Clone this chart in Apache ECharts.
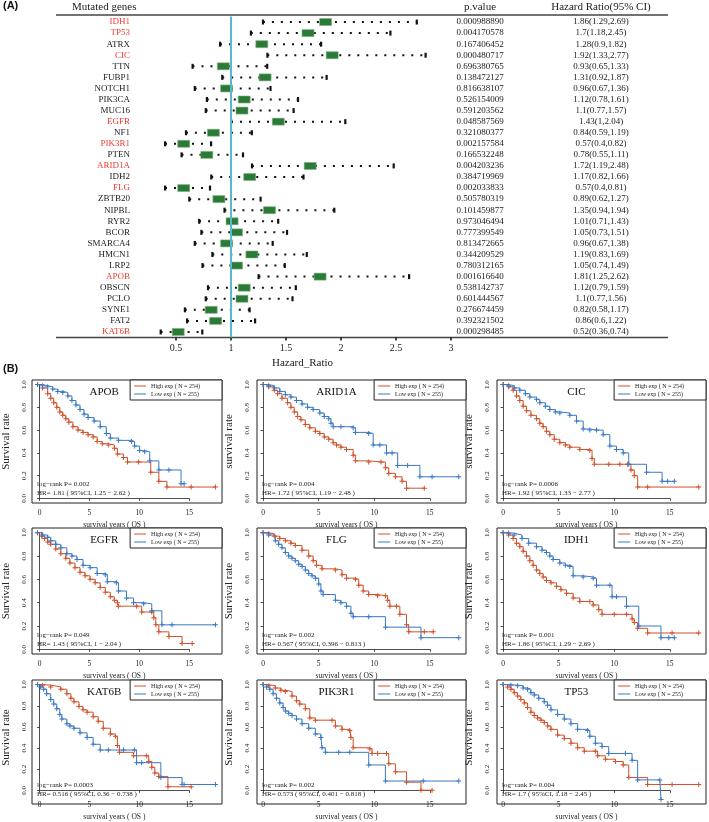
<!DOCTYPE html>
<html>
<head>
<meta charset="utf-8">
<script src="https://cdn.jsdelivr.net/npm/echarts@6/dist/echarts.min.js"></script>
<style>
html,body{margin:0;padding:0;background:#fff;}
#main{width:709px;height:822px;}
</style>
</head>
<body>
<div id="main"></div>
<script>
// ---- (A) forest plot data ----
var genes = ['IDH1','TP53','ATRX','CIC','TTN','FUBP1','NOTCH1','PIK3CA','MUC16','EGFR','NF1','PIK3R1','PTEN','ARID1A','IDH2','FLG','ZBTB20','NIPBL','RYR2','BCOR','SMARCA4','HMCN1','LRP2','APOB','OBSCN','PCLO','SYNE1','FAT2','KAT6B'];
var pValues = ['0.000988890','0.004170578','0.167406452','0.000480717','0.696380765','0.138472127','0.816638107','0.526154009','0.591203562','0.048587569','0.321080377','0.002157584','0.166532248','0.004203236','0.384719969','0.002033833','0.505780319','0.101459877','0.973046494','0.777399549','0.813472665','0.344209529','0.780312165','0.001616640','0.538142737','0.601444567','0.276674459','0.392321502','0.000298485'];
var hazard = [1.86,1.7,1.28,1.92,0.93,1.31,0.96,1.12,1.1,1.43,0.84,0.57,0.78,1.72,1.17,0.57,0.89,1.35,1.01,1.05,0.96,1.19,1.05,1.81,1.12,1.1,0.82,0.86,0.52];
var ciLow = [1.29,1.18,0.9,1.33,0.65,0.92,0.67,0.78,0.77,1,0.59,0.4,0.55,1.19,0.82,0.4,0.62,0.94,0.71,0.73,0.67,0.83,0.74,1.25,0.79,0.77,0.58,0.6,0.36];
var ciHigh = [2.69,2.45,1.82,2.77,1.33,1.87,1.36,1.61,1.57,2.04,1.19,0.82,1.11,2.48,1.66,0.81,1.27,1.94,1.43,1.51,1.38,1.69,1.49,2.62,1.59,1.56,1.17,1.22,0.74];
var forestTicks = [0.5,1,1.5,2,2.5,3];

// ---- (B) Kaplan-Meier curves, [years, survival] ----
var apobHigh = [[0,1],[0.5,0.97],[1,0.92],[1.3,0.88],[1.6,0.84],[1.9,0.8],[2.2,0.76],[2.5,0.73],[2.8,0.7],[3.1,0.67],[3.5,0.63],[4,0.6],[4.5,0.58],[5,0.56],[5.5,0.54],[5.9,0.5],[6.4,0.48],[7,0.47],[7.6,0.44],[7.9,0.39],[8.5,0.36],[8.9,0.32],[10,0.32],[11.2,0.23],[12,0.15],[12.8,0.1],[15.2,0.1],[17.6,0.1]];
var apobLow = [[0,1],[0.5,0.99],[1,0.98],[1.5,0.96],[2,0.94],[2.5,0.93],[3,0.9],[3.4,0.86],[3.8,0.82],[4.2,0.78],[4.6,0.74],[5,0.71],[5.6,0.68],[6.2,0.63],[6.8,0.57],[7.2,0.53],[8,0.51],[9.3,0.5],[9.6,0.46],[10.1,0.42],[10.6,0.41],[11.1,0.33],[12,0.25],[13,0.25],[14.2,0.13],[14.5,0.13]];
var arid1aHigh = [[0,1],[0.5,0.98],[1,0.95],[1.3,0.92],[1.7,0.88],[2.2,0.84],[2.5,0.8],[2.8,0.76],[3.1,0.72],[3.4,0.69],[3.8,0.65],[4.2,0.62],[4.7,0.59],[5.1,0.57],[5.5,0.54],[5.9,0.52],[6.3,0.49],[6.6,0.47],[7,0.45],[7.5,0.43],[8.1,0.38],[8.3,0.33],[9.5,0.32],[10.6,0.32],[11,0.27],[11.3,0.22],[11.9,0.19],[12.5,0.15],[12.9,0.09],[14.5,0.09]];
var arid1aLow = [[0,1],[0.5,0.99],[1,0.97],[1.5,0.94],[2,0.91],[2.5,0.89],[3,0.86],[3.5,0.83],[4,0.8],[4.5,0.78],[5.1,0.75],[5.5,0.72],[5.9,0.7],[6.1,0.66],[6.3,0.63],[7,0.63],[8.1,0.62],[8.3,0.58],[9.5,0.57],[9.9,0.47],[10.5,0.47],[11.1,0.4],[11.6,0.4],[12.1,0.29],[13,0.29],[14.1,0.19],[15.2,0.19],[17.6,0.19]];
var cicHigh = [[0,1],[0.5,0.98],[0.9,0.95],[1.2,0.9],[1.5,0.86],[1.8,0.81],[2.1,0.77],[2.5,0.73],[3,0.7],[3.3,0.66],[3.6,0.63],[3.9,0.59],[4.2,0.56],[4.6,0.52],[5.1,0.49],[5.6,0.47],[6,0.45],[6.9,0.43],[7.8,0.42],[8,0.35],[8.2,0.3],[9.5,0.3],[10.5,0.3],[11.2,0.3],[11.5,0.25],[11.8,0.2],[12.1,0.1],[13,0.1],[17.6,0.1]];
var cicLow = [[0,1],[0.5,0.99],[1,0.97],[1.5,0.95],[2,0.92],[2.4,0.89],[3,0.87],[3.3,0.84],[3.8,0.81],[4.2,0.78],[4.7,0.76],[5.1,0.75],[6,0.73],[6.6,0.68],[7.2,0.61],[7.8,0.6],[8.4,0.6],[9,0.56],[9.6,0.46],[10.2,0.43],[10.8,0.4],[11.3,0.3],[12.9,0.23],[14.3,0.15],[14.8,0.15],[15.4,0.15]];
var egfrHigh = [[0,1],[0.4,0.97],[0.7,0.95],[1,0.92],[1.3,0.9],[1.8,0.86],[2.3,0.82],[2.8,0.78],[3.2,0.74],[3.7,0.7],[4.2,0.66],[4.7,0.63],[5.2,0.6],[5.7,0.57],[6.2,0.53],[6.7,0.49],[7.2,0.45],[7.6,0.42],[7.9,0.4],[8,0.37],[9.8,0.37],[10.3,0.32],[11.3,0.32],[11.5,0.27],[11.7,0.21],[12,0.15],[13,0.11],[14.3,0.05],[15.3,0.05]];
var egfrLow = [[0,1],[0.5,0.98],[1,0.96],[1.3,0.93],[1.8,0.9],[2.3,0.87],[2.9,0.82],[3.4,0.8],[3.9,0.77],[4.5,0.72],[5.2,0.7],[5.9,0.65],[6.7,0.64],[6.9,0.58],[7.8,0.57],[8,0.5],[8.8,0.44],[9.5,0.4],[10.5,0.39],[11.3,0.33],[12.3,0.21],[13.3,0.21],[17.6,0.21]];
var flgHigh = [[0,1],[0.5,0.99],[1,0.97],[1.5,0.95],[2,0.93],[2.5,0.91],[2.9,0.89],[3.5,0.85],[4.1,0.8],[4.5,0.76],[4.8,0.72],[5.3,0.69],[6.5,0.68],[7.1,0.64],[7.5,0.61],[8.3,0.6],[8.6,0.55],[9,0.5],[9.5,0.47],[10.3,0.46],[11,0.46],[11.2,0.42],[11.4,0.37],[12,0.37],[12.3,0.3],[12.9,0.21],[13.1,0.15],[14.5,0.15],[15.3,0.15]];
var flgLow = [[0,1],[0.5,0.98],[1.1,0.93],[1.4,0.9],[1.7,0.87],[2,0.83],[2.3,0.8],[2.6,0.78],[2.9,0.76],[3.2,0.73],[3.5,0.71],[3.8,0.68],[4.1,0.65],[4.4,0.63],[4.7,0.61],[5,0.56],[5.2,0.5],[5.4,0.47],[6.5,0.42],[7,0.4],[7.5,0.37],[7.9,0.31],[8.1,0.28],[9.5,0.28],[11,0.19],[14.2,0.1],[17.6,0.1]];
var idh1High = [[0,1],[0.5,0.98],[0.9,0.95],[1.2,0.91],[1.5,0.88],[1.8,0.84],[2.1,0.8],[2.4,0.76],[2.7,0.72],[3,0.68],[3.3,0.65],[3.6,0.62],[3.9,0.59],[4.3,0.57],[4.8,0.54],[5.2,0.51],[5.7,0.48],[6.3,0.44],[6.9,0.41],[7.8,0.41],[8.1,0.38],[8.6,0.34],[8.9,0.3],[10,0.3],[11.1,0.3],[11.6,0.26],[11.8,0.23],[12.1,0.18],[13,0.14],[15.2,0.14],[17.6,0.14]];
var idh1Low = [[0,1],[0.5,0.995],[1,0.98],[1.7,0.95],[2.3,0.91],[3,0.88],[3.5,0.85],[3.9,0.83],[4.2,0.8],[4.5,0.77],[5.1,0.74],[5.6,0.72],[6,0.71],[6.3,0.63],[7.2,0.62],[8.1,0.61],[8.4,0.55],[9.6,0.55],[9.8,0.45],[10.2,0.45],[11.1,0.37],[12.2,0.2],[14.2,0.1],[14.9,0.1],[15.4,0.1]];
var kat6bHigh = [[0,1],[0.5,0.995],[1.3,0.98],[2.3,0.96],[2.9,0.92],[3.3,0.88],[3.6,0.85],[4.1,0.81],[4.5,0.78],[4.9,0.76],[5.5,0.72],[6,0.68],[6.5,0.62],[7.2,0.57],[7.7,0.55],[7.9,0.47],[8.1,0.41],[9.5,0.38],[10.8,0.38],[11,0.33],[11.3,0.28],[11.6,0.23],[12,0.2],[12.9,0.11],[15.2,0.11]];
var kat6bLow = [[0,1],[0.3,0.98],[0.6,0.96],[0.9,0.92],[1.3,0.87],[1.6,0.83],[1.9,0.79],[2.2,0.74],[2.4,0.7],[2.9,0.66],[3.2,0.64],[3.6,0.62],[4.2,0.58],[4.9,0.54],[5.5,0.48],[6.2,0.43],[7,0.43],[8.5,0.43],[9.6,0.43],[9.8,0.32],[10.3,0.32],[12.2,0.19],[14.3,0.13],[14.5,0.13],[17.6,0.13]];
var pik3r1High = [[0,1],[0.5,0.99],[1.1,0.97],[1.6,0.95],[2,0.94],[2.6,0.9],[3,0.86],[3.3,0.83],[3.8,0.79],[4.2,0.71],[4.7,0.69],[6.2,0.69],[6.5,0.64],[7.1,0.61],[7.8,0.6],[7.9,0.54],[8.1,0.45],[9.6,0.44],[9.8,0.4],[10.3,0.4],[11.1,0.4],[11.3,0.31],[11.9,0.24],[12.9,0.15],[14.2,0.08],[15.2,0.08]];
var pik3r1Low = [[0,1],[0.3,0.98],[0.6,0.96],[0.9,0.92],[1.2,0.88],[1.5,0.84],[1.8,0.8],[2,0.77],[2.3,0.75],[2.6,0.73],[3,0.7],[3.5,0.66],[4.1,0.62],[4.7,0.57],[5.2,0.54],[5.3,0.45],[5.6,0.41],[6.8,0.41],[7.8,0.41],[9.5,0.3],[11,0.16],[14.4,0.16],[17.6,0.16]];
var tp53High = [[0,1],[0.4,0.98],[0.7,0.96],[1,0.93],[1.3,0.9],[1.6,0.87],[1.9,0.84],[2.2,0.8],[2.5,0.76],[2.8,0.73],[3.1,0.71],[3.4,0.69],[3.7,0.67],[4,0.64],[4.3,0.61],[4.9,0.56],[5.5,0.53],[6.1,0.49],[6.7,0.45],[7.3,0.42],[8.3,0.42],[8.5,0.38],[9.2,0.35],[10.1,0.33],[10.8,0.3],[11.3,0.19],[13,0.13],[15.2,0.13],[17.6,0.13]];
var tp53Low = [[0,1],[0.7,0.995],[1.3,0.99],[1.8,0.97],[2.2,0.96],[2.5,0.93],[2.8,0.91],[3.2,0.88],[3.7,0.85],[4,0.82],[4.3,0.78],[4.9,0.74],[5.5,0.7],[6.1,0.66],[6.7,0.61],[7.6,0.6],[7.8,0.55],[8.3,0.49],[8.9,0.46],[9.5,0.4],[11,0.4],[11.6,0.34],[12.1,0.17],[14.1,0.17],[14.2,0]];

var kmGenes = ['APOB','ARID1A','CIC','EGFR','FLG','IDH1','KAT6B','PIK3R1','TP53'];
var kmHigh = [apobHigh, arid1aHigh, cicHigh, egfrHigh, flgHigh, idh1High, kat6bHigh, pik3r1High, tp53High];
var kmLow = [apobLow, arid1aLow, cicLow, egfrLow, flgLow, idh1Low, kat6bLow, pik3r1Low, tp53Low];
var kmLogRank = ['0.002','0.004','0.0006','0.049','0.002','0.001','0.0003','0.002','0.004'];
var kmHR = ['1.81 ( 95%CI, 1.25 \u2212 2.62 )','1.72 ( 95%CI, 1.19 \u2212 2.48 )','1.92 ( 95%CI, 1.33 \u2212 2.77 )','1.43 ( 95%CI, 1 \u2212 2.04 )','0.567 ( 95%CI, 0.396 \u2212 0.813 )','1.86 ( 95%CI, 1.29 \u2212 2.69 )','0.516 ( 95%CI, 0.36 \u2212 0.738 )','0.573 ( 95%CI, 0.401 \u2212 0.818 )','1.7 ( 95%CI, 1.18 \u2212 2.45 )'];
var kmYName = ['Survival rate','survival rate','survival rate','Survival rate','Survival rate','Survival rate','Survival rate','Survival rate','Survival rate'];
var HIGH = 'High exp ( N = 254)', LOW = 'Low exp ( N = 255)';

// ---- layout / style ----
var W = 709;
var SERIF = '"Liberation Serif", "Times New Roman", serif';
var SANS = '"Liberation Sans", Arial, sans-serif';
var RED_GENE = '#ec3b2f', GREEN = '#2b7a37', CYAN = '#58b9cc';
var KM_RED = '#d1512a', KM_BLUE = '#3a78c4';
var PLUS = 'path://M2,0H3V2H5V3H3V5H2V3H0V2H2Z';
var colL = [32, 257, 497], colR = [222, 466, 706];
var rowT = [380, 528, 680], rowB = [503, 654, 804];
var T_MIN = -0.55, T_MAX = 18.25, S_MIN = -0.04, S_MAX = 1.04;

var grids = [{left: 154, top: 16.5, width: 297, height: 321}];
var xAxes = [{
  gridIndex: 0, type: 'value', min: 0.3, max: 3,
  axisLine: {show: false},
  axisTick: {show: true, customValues: forestTicks, length: 3, lineStyle: {color: '#111', width: 1.5}},
  axisLabel: {customValues: forestTicks, fontSize: 10, fontFamily: SERIF, color: '#222', margin: 6},
  splitLine: {show: false},
  name: 'Hazard_Ratio', nameLocation: 'middle', nameGap: 20,
  nameTextStyle: {fontSize: 11, fontFamily: SERIF, color: '#222'}
}];
var yAxes = [
  {
    gridIndex: 0, type: 'category', inverse: true, data: genes,
    axisLine: {show: false}, axisTick: {show: false}, splitLine: {show: false},
    axisLabel: {interval: 0, fontSize: 9, fontFamily: SERIF, margin: 24,
      color: function (v, i) { return parseFloat(pValues[genes.indexOf(v)]) < 0.05 ? RED_GENE : '#222'; }}
  },
  {
    gridIndex: 0, type: 'category', inverse: true, position: 'right', data: pValues,
    axisLine: {show: false}, axisTick: {show: false}, splitLine: {show: false},
    axisLabel: {interval: 0, fontSize: 9, fontFamily: SERIF, color: '#222', align: 'center', margin: 29}
  },
  {
    gridIndex: 0, type: 'category', inverse: true, position: 'right',
    data: hazard.map(function (h, i) { return h + '(' + ciLow[i] + ',' + ciHigh[i] + ')'; }),
    axisLine: {show: false}, axisTick: {show: false}, splitLine: {show: false},
    axisLabel: {interval: 0, fontSize: 9, fontFamily: SERIF, color: '#222', align: 'center', margin: 150}
  }
];

var series = [{
  type: 'custom', xAxisIndex: 0, yAxisIndex: 0,
  dimensions: ['hr', 'lo', 'hi', 'gene'],
  data: genes.map(function (g, i) { return [hazard[i], ciLow[i], ciHigh[i], g]; }),
  encode: {x: 0, y: 3},
  renderItem: function (params, api) {
    var row = api.value(3);
    var pLo = api.coord([api.value(1), row]);
    var pHi = api.coord([api.value(2), row]);
    var pHr = api.coord([api.value(0), row]);
    return {type: 'group', children: [
      {type: 'line', shape: {x1: pLo[0], y1: pLo[1], x2: pHi[0], y2: pHi[1]}, style: {stroke: '#111', lineWidth: 2, lineDash: [2, 7]}},
      {type: 'rect', shape: {x: pLo[0] - 1, y: pLo[1] - 2.5, width: 2.2, height: 5}, style: {fill: '#111'}},
      {type: 'rect', shape: {x: pHi[0] - 1.2, y: pHi[1] - 2.5, width: 2.2, height: 5}, style: {fill: '#111'}},
      {type: 'rect', shape: {x: pHr[0] - 6, y: pHr[1] - 3.5, width: 12, height: 7}, style: {fill: GREEN, stroke: '#7db27f', lineWidth: 0.6}}
    ]};
  },
  z: 3
}, {
  type: 'line', xAxisIndex: 0, yAxisIndex: 0, data: [], silent: true,
  markLine: {
    silent: true, symbol: ['none', 'none'], label: {show: false}, animation: false,
    lineStyle: {color: CYAN, width: 2, type: 'solid'},
    data: [{xAxis: 1}]
  }
}];

var legends = [];
var graphics = [
  {type: 'text', x: 3, y: 6, style: {text: '(A)', font: 'bold 11px ' + SANS, fill: '#111', verticalAlign: 'middle', textVerticalAlign: 'middle'}},
  {type: 'text', x: 72, y: 7, style: {text: 'Mutated genes', font: '11px ' + SERIF, fill: '#222', verticalAlign: 'middle', textVerticalAlign: 'middle'}},
  {type: 'text', x: 480, y: 7, style: {text: 'p.value', font: '11px ' + SERIF, fill: '#222', align: 'center', textAlign: 'center', verticalAlign: 'middle', textVerticalAlign: 'middle'}},
  {type: 'text', x: 601, y: 7, style: {text: 'Hazard Ratio(95% CI)', font: '11px ' + SERIF, fill: '#222', align: 'center', textAlign: 'center', verticalAlign: 'middle', textVerticalAlign: 'middle'}},
  {type: 'line', shape: {x1: 56, y1: 15, x2: 668, y2: 15}, style: {stroke: '#444', lineWidth: 1.3}},
  {type: 'line', shape: {x1: 56, y1: 337.5, x2: 668, y2: 337.5}, style: {stroke: '#444', lineWidth: 1.3}},
  {type: 'text', x: 3, y: 369, style: {text: '(B)', font: 'bold 11px ' + SANS, fill: '#111', verticalAlign: 'middle', textVerticalAlign: 'middle'}}
];

kmGenes.forEach(function (gene, k) {
  var r = Math.floor(k / 3), c = k % 3;
  var L = colL[c], R = colR[c], T = rowT[r], B = rowB[r];
  var w = R - L, h = B - T;
  var fx = function (t) { return L + (t - T_MIN) / (T_MAX - T_MIN) * w; };
  var fy = function (s) { return B - (s - S_MIN) / (S_MAX - S_MIN) * h; };
  var gBox = grids.length, gAx = gBox + 1;
  grids.push({left: L, top: T, width: w, height: h, show: true, borderColor: '#222', borderWidth: 1, backgroundColor: 'transparent'});
  grids.push({left: fx(0), top: fy(1), width: fx(15) - fx(0), height: fy(0) - fy(1)});

  var xb = xAxes.length;
  xAxes.push({gridIndex: gBox, type: 'value', min: T_MIN, max: T_MAX, show: false});
  xAxes.push({
    gridIndex: gAx, type: 'value', min: 0, max: 15, interval: 5, offset: B - fy(0) + 4,
    axisLine: {show: true, lineStyle: {color: '#222', width: 0.8}},
    axisTick: {length: 2.5, lineStyle: {color: '#222', width: 0.8}},
    axisLabel: {fontSize: 7.5, fontFamily: SERIF, color: '#222', margin: 2},
    splitLine: {show: false},
    name: 'survival years ( OS )', nameLocation: 'middle', nameGap: 14,
    nameTextStyle: {fontSize: 7.5, fontFamily: SERIF, color: '#222'}
  });
  var yb = yAxes.length;
  yAxes.push({gridIndex: gBox, type: 'value', min: S_MIN, max: S_MAX, show: false});
  yAxes.push({
    gridIndex: gAx, type: 'value', min: 0, max: 1, interval: 0.2, offset: fx(0) - L + 3,
    axisLine: {show: true, lineStyle: {color: '#222', width: 0.8}},
    axisTick: {length: 2.5, lineStyle: {color: '#222', width: 0.8}},
    axisLabel: {rotate: 90, fontSize: 7, fontFamily: SERIF, color: '#222', margin: 3,
      formatter: function (v) { return v.toFixed(1); }},
    splitLine: {show: false},
    name: kmYName[k], nameLocation: 'middle', nameGap: 19,
    nameTextStyle: {fontSize: 11, fontFamily: SERIF, color: '#222'}
  });

  [[HIGH, kmHigh[k], KM_RED], [LOW, kmLow[k], KM_BLUE]].forEach(function (d) {
    series.push({
      type: 'line', name: d[0], xAxisIndex: xb, yAxisIndex: yb, data: d[1], step: 'end',
      symbol: PLUS, symbolSize: 5, showSymbol: true, showAllSymbol: true,
      lineStyle: {color: d[2], width: 1}, itemStyle: {color: d[2], borderWidth: 0}
    });
  });

  legends.push({
    data: [HIGH, LOW], orient: 'vertical', right: W - R, top: T,
    backgroundColor: '#fff', borderColor: '#222', borderWidth: 1,
    padding: [3, 22, 3, 4], itemGap: 2, itemWidth: 12, itemHeight: 1, icon: 'rect',
    selectedMode: false,
    textStyle: {fontSize: 6, fontFamily: SERIF, color: '#222'}
  });

  graphics.push(
    {type: 'text', x: L + 0.38 * w, y: T + 12, style: {text: gene, font: '11px ' + SERIF, fill: '#111', align: 'center', textAlign: 'center', verticalAlign: 'middle', textVerticalAlign: 'middle'}},
    {type: 'text', x: L + 5, y: B - 19, style: {text: 'log\u2212rank P= ' + kmLogRank[k], font: '7px ' + SERIF, fill: '#222', verticalAlign: 'middle', textVerticalAlign: 'middle'}},
    {type: 'text', x: L + 5, y: B - 10, style: {text: 'HR= ' + kmHR[k], font: '7px ' + SERIF, fill: '#222', verticalAlign: 'middle', textVerticalAlign: 'middle'}}
  );
});

var myChart = echarts.init(document.getElementById('main'));
myChart.setOption({
  backgroundColor: '#fff',
  animation: false,
  grid: grids,
  xAxis: xAxes,
  yAxis: yAxes,
  legend: legends,
  series: series,
  graphic: graphics
});
window.addEventListener('resize', function () { myChart.resize(); });
</script>
</body>
</html>
